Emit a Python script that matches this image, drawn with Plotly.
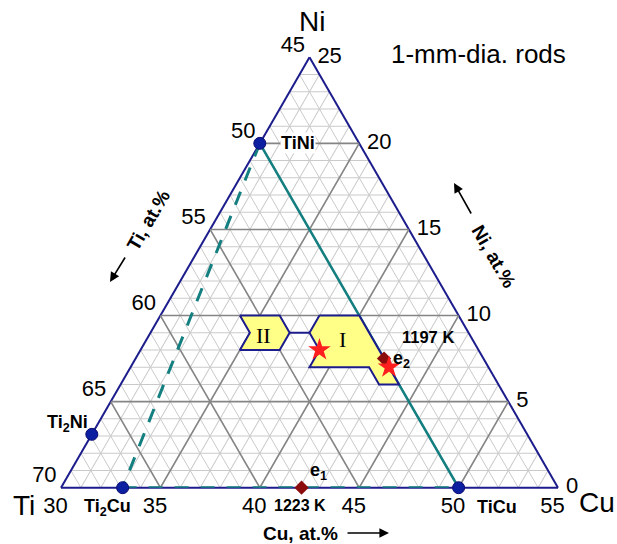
import plotly.graph_objects as go

# Ti-Cu-Ni section, at.% (Ni + Ti + Cu = 100)
TI_MIN, CU_MIN, NI_MIN = 45, 30, 0

ti_ticks = [70, 65, 60, 55, 50, 45]
ni_ticks = [0, 5, 10, 15, 20, 25]
cu_ticks = [30, 35, 40, 45, 50, 55]

# intermetallic compounds on the section edges (Ni, Cu)
phase_names = ["TiNi", "Ti2Ni", "Ti2Cu", "TiCu"]
phase_ni = [20, 3.1, 0, 0]
phase_cu = [30, 30, 33.1, 50]

# eutectic points e1, e2
eut_ni = [0, 7.5]
eut_cu = [42.1, 42.5]

# best glass formers
star_ni = [8, 7]
star_cu = [39, 43]

# glass-forming regions I and II (Ni, Cu outline vertices)
reg1_ni = [10, 10, 6, 6, 7, 7, 8, 9, 10]
reg1_cu = [38, 40, 44, 43, 42, 39, 39, 38, 38]
reg2_ni = [10, 10, 9, 8, 8, 9, 10]
reg2_cu = [34, 36, 37, 37, 35, 35, 34]
link_ni = [9, 9]
link_cu = [37, 38]

NAVY = "#1c1c8c"
BLUE = "#0c1fa0"
TEAL = "#137f80"
GRID = "#cacaca"
MAJOR = "#858585"
FONT = "Liberation Sans, Arial, sans-serif"
SERIF = "Liberation Serif, Times New Roman, serif"
THIN, EN = "\u2009", "\u2002"


def ti(ni, cu):
    return [100 - n - c for n, c in zip(ni, cu)]


fig = go.Figure()

# major 5 % grid
g_ni, g_cu = [], []
for v in [5, 10, 15, 20]:          # constant Ni
    g_ni += [v, v, None]
    g_cu += [30, 55 - v, None]
for v in [50, 55, 60, 65]:         # constant Ti
    g_ni += [0, 70 - v, None]
    g_cu += [100 - v, 30, None]
for v in [35, 40, 45, 50]:         # constant Cu
    g_ni += [0, 55 - v, None]
    g_cu += [v, v, None]
g_ti = [None if n is None else 100 - n - c for n, c in zip(g_ni, g_cu)]
fig.add_trace(go.Scatterternary(a=g_ni, b=g_ti, c=g_cu, mode="lines",
                                line=dict(color=MAJOR, width=1.6),
                                hoverinfo="skip", showlegend=False))

# tie lines between compounds
tie_pairs = [(0, 2, "14px,12px", 3), (0, 3, "solid", 2.5), (2, 3, "14px,12px", 3)]
for i, j, dash, w in tie_pairs:
    n = [phase_ni[i], phase_ni[j]]
    c = [phase_cu[i], phase_cu[j]]
    fig.add_trace(go.Scatterternary(a=n, b=ti(n, c), c=c, mode="lines",
                                    line=dict(color=TEAL, width=w, dash=dash),
                                    hoverinfo="skip", showlegend=False,
                                    cliponaxis=False))

# regions
for rn, rc in [(reg2_ni, reg2_cu), (reg1_ni, reg1_cu)]:
    fig.add_trace(go.Scatterternary(a=rn, b=ti(rn, rc), c=rc, mode="lines",
                                    fill="toself", fillcolor="#ffff88",
                                    line=dict(color=NAVY, width=2),
                                    hoverinfo="skip", showlegend=False))
fig.add_trace(go.Scatterternary(a=link_ni, b=ti(link_ni, link_cu), c=link_cu,
                                mode="lines", line=dict(color=NAVY, width=2),
                                hoverinfo="skip", showlegend=False))

# compounds
fig.add_trace(go.Scatterternary(a=phase_ni, b=ti(phase_ni, phase_cu), c=phase_cu,
                                mode="markers", text=phase_names,
                                marker=dict(color=BLUE, size=12,
                                            line=dict(color="#0a0a70", width=1)),
                                showlegend=False, cliponaxis=False))
# eutectics
fig.add_trace(go.Scatterternary(a=eut_ni, b=ti(eut_ni, eut_cu), c=eut_cu,
                                mode="markers",
                                marker=dict(color="#8b0c0c", size=11, symbol="diamond"),
                                showlegend=False, cliponaxis=False))
# stars
fig.add_trace(go.Scatterternary(a=star_ni, b=ti(star_ni, star_cu), c=star_cu,
                                mode="markers",
                                marker=dict(color="#ff1e1e", size=17, symbol="star"),
                                showlegend=False, cliponaxis=False))

# tick labels
tick_font = dict(family=FONT, size=22, color="black")
fig.add_trace(go.Scatterternary(
    a=[70 - v for v in ti_ticks], b=ti_ticks, c=[30] * len(ti_ticks),
    mode="text", text=[f"{v}{THIN}" for v in ti_ticks], textposition="top left",
    textfont=tick_font, hoverinfo="skip", showlegend=False, cliponaxis=False))
fig.add_trace(go.Scatterternary(
    a=ni_ticks, b=[45] * len(ni_ticks), c=[55 - v for v in ni_ticks],
    mode="markers+text", text=[str(v) for v in ni_ticks], textposition="middle right",
    marker=dict(size=11, opacity=0), textfont=tick_font,
    hoverinfo="skip", showlegend=False, cliponaxis=False))
fig.add_trace(go.Scatterternary(
    a=[0] * len(cu_ticks), b=[100 - v for v in cu_ticks], c=cu_ticks,
    mode="markers+text", text=[f"{v}{EN}" for v in cu_ticks], textposition="bottom center",
    marker=dict(size=12, opacity=0), textfont=tick_font,
    hoverinfo="skip", showlegend=False, cliponaxis=False))

ax_common = dict(showline=True, linecolor=NAVY, linewidth=2, showgrid=True,
                 gridcolor=GRID, gridwidth=1, dtick=1, tick0=0,
                 showticklabels=False, ticks="", layer="below traces",
                 title=dict(text=""))

W, H = 617, 544
ML, MR, MT, MB = 61, 59, 57, 56
PW, PH = W - ML - MR, H - MT - MB


def px(x):
    return (x - ML) / PW


def py(y):
    return (H - MB - y) / PH


fig.update_layout(
    width=W, height=H,
    margin=dict(l=ML, r=MR, t=MT, b=MB, pad=0, autoexpand=False),
    paper_bgcolor="white",
    ternary=dict(sum=100, bgcolor="white",
                 aaxis=dict(min=NI_MIN, **ax_common),
                 baxis=dict(min=TI_MIN, **ax_common),
                 caxis=dict(min=CU_MIN, **ax_common)),
    font=dict(family=FONT, color="black"),
)


def label(text, x, y, size, bold=False, family=FONT, angle=0, bg=None):
    fig.add_annotation(text=f"<b>{text}</b>" if bold else text,
                       x=px(x), y=py(y), xref="paper", yref="paper",
                       xanchor="center", yanchor="middle", showarrow=False,
                       textangle=angle, font=dict(family=family, size=size, color="black"),
                       bgcolor=bg, borderpad=0)


def arrow(x_head, y_head, x_tail, y_tail):
    fig.add_annotation(text="", x=px(x_head), y=py(y_head), xref="paper", yref="paper",
                       ax=x_tail - x_head, ay=y_tail - y_head,
                       showarrow=True, arrowhead=2, standoff=0, startstandoff=0,
                       arrowsize=1.2, arrowwidth=1.6, arrowcolor="black")


label("Ni", 312, 22, 28)
label("Ti", 24, 506, 28)
label("Cu", 597, 502, 28)
label("1-mm-dia. rods", 478, 54, 26)
label("Ti, at.%", 148, 220, 19, bold=True, angle=-60)
arrow(110, 282, 126, 256)
label("Ni, at.%", 494, 256, 19, bold=True, angle=60)
arrow(454, 183, 472, 215)
label("Cu, at.%", 300, 533, 19, bold=True)
arrow(389, 533, 346, 533)

label("TiNi", 298, 143, 18, bold=True, bg="white")
label("Ti<sub>2</sub>Ni", 67, 423, 18, bold=True)
label("Ti<sub>2</sub>Cu", 107, 507, 18, bold=True)
label("TiCu", 497, 507, 18, bold=True)
label("e<sub>1</sub>", 318, 471, 18, bold=True)
label("1223 K", 300, 505, 16, bold=True)
label("e<sub>2</sub>", 401, 359, 18, bold=True)
label("1197 K", 428, 337, 16.5, bold=True)
label("II", 263, 335, 22, family=SERIF)
label("I", 342.5, 339, 22, family=SERIF)

fig.write_html("out.html")
